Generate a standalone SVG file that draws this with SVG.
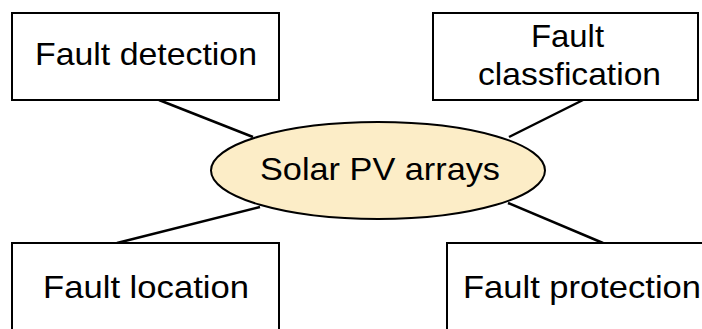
<svg xmlns="http://www.w3.org/2000/svg" width="702" height="329" viewBox="0 0 702 329">
<style>
.box{fill:#ffffff;stroke:#000000;stroke-width:2}
.ell{fill:#fcedc7;stroke:#000000;stroke-width:2}
.lbl{font-family:"Liberation Sans",Arial,sans-serif;font-size:32px;fill:#000000}
.conn line{stroke:#000000;stroke-width:2.5}
</style>
<rect width="702" height="329" fill="#ffffff"/>
<g class="conn" id="connectors">
<line x1="159" y1="100" x2="253" y2="137"/>
<line x1="583" y1="100" x2="509" y2="137"/>
<line x1="117" y1="243" x2="260" y2="207"/>
<line x1="603" y1="243" x2="508" y2="203"/>
</g>
<g id="fault-detection">
<rect class="box" x="12" y="13" width="267" height="87"/>
<text class="lbl" x="35" y="65" textLength="222" lengthAdjust="spacingAndGlyphs">Fault detection</text>
</g>
<g id="fault-classification">
<rect class="box" x="433" y="13" width="265" height="87"/>
<text class="lbl" x="531" y="47" textLength="73" lengthAdjust="spacingAndGlyphs">Fault</text>
<text class="lbl" x="478" y="85" textLength="183" lengthAdjust="spacingAndGlyphs">classfication</text>
</g>
<g id="solar-pv">
<ellipse class="ell" cx="378" cy="170.5" rx="167" ry="48.5"/>
<text class="lbl" x="260" y="180" textLength="240" lengthAdjust="spacingAndGlyphs">Solar PV arrays</text>
</g>
<g id="fault-location">
<rect class="box" x="12" y="243" width="267" height="100"/>
<text class="lbl" x="43" y="298" textLength="206" lengthAdjust="spacingAndGlyphs">Fault location</text>
</g>
<g id="fault-protection">
<rect class="box" x="447" y="243" width="280" height="100"/>
<text class="lbl" x="463" y="298" textLength="238" lengthAdjust="spacingAndGlyphs">Fault protection</text>
</g>
</svg>
